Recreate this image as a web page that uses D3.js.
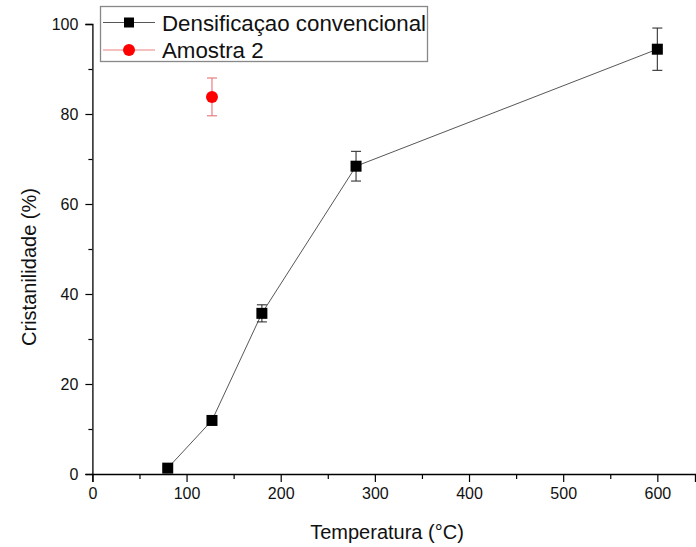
<!DOCTYPE html>
<html>
<head>
<meta charset="utf-8">
<script src="https://cdn.jsdelivr.net/npm/d3@7"></script>
<style>
  html, body { margin: 0; padding: 0; background: #fff; }
  svg { display: block; font-family: Arial, "Liberation Sans", sans-serif; }
</style>
</head>
<body>
<svg id="chart" width="696" height="547"></svg>
<script>
// Conventional densification series: temperature (°C), crystallinity (%), error (±)
const tempConv = [80, 127, 180, 280, 600];
const crystConv = [1.3, 11.9, 35.7, 68.4, 94.4];
const errConv = [0.3, 0.5, 1.9, 3.3, 4.7];

// Sample 2
const tempAm2 = [127];
const crystAm2 = [83.8];
const errAm2 = [4.2];

const xTicks = [0, 100, 200, 300, 400, 500, 600];
const xMinor = [50, 150, 250, 350, 450, 550];
const yTicks = [0, 20, 40, 60, 80, 100];
const yMinor = [10, 30, 50, 70, 90];

const legendLabels = ["Densificaçao convencional", "Amostra 2"];

const svg = d3.select("#chart");

const x = d3.scaleLinear().domain([0, 640]).range([92.4, 695]);
const y = d3.scaleLinear().domain([0, 100]).range([474, 24]);

// Axes
const xAxis = svg.append("g").attr("transform", `translate(0,${y(0)})`)
  .call(d3.axisBottom(x).tickValues(xTicks).tickSize(8).tickPadding(6).tickFormat(d3.format("d")));
const xAxisMinor = svg.append("g").attr("transform", `translate(0,${y(0)})`)
  .call(d3.axisBottom(x).tickValues(xMinor).tickSize(5).tickFormat(""));
const yAxis = svg.append("g").attr("transform", `translate(${x(0)},0)`)
  .call(d3.axisLeft(y).tickValues(yTicks).tickSize(7).tickPadding(7).tickFormat(d3.format("d")));
const yAxisMinor = svg.append("g").attr("transform", `translate(${x(0)},0)`)
  .call(d3.axisLeft(y).tickValues(yMinor).tickSize(4).tickFormat(""));

[xAxis, xAxisMinor, yAxis, yAxisMinor].forEach(g => {
  g.select(".domain").attr("stroke", "#000").attr("stroke-width", 1.3);
  g.selectAll(".tick line").attr("stroke", "#000").attr("stroke-width", 1.2);
  g.selectAll(".tick text").attr("fill", "#111").style("font-size", "16px")
    .style("font-family", "Arial, 'Liberation Sans', sans-serif");
});
xAxisMinor.select(".domain").remove();
yAxisMinor.select(".domain").remove();

// Axis titles
svg.append("text")
  .attr("x", 387).attr("y", 539)
  .attr("text-anchor", "middle")
  .style("font-size", "20px").attr("fill", "#111")
  .text("Temperatura (°C)");

svg.append("text")
  .attr("transform", `translate(36,267) rotate(-90)`)
  .attr("text-anchor", "middle")
  .style("font-size", "20px").attr("fill", "#111")
  .text("Cristanilidade (%)");

// Connecting line
const conv = tempConv.map((t, i) => ({ t, c: crystConv[i], e: errConv[i] }));
const am2 = tempAm2.map((t, i) => ({ t, c: crystAm2[i], e: errAm2[i] }));

svg.append("path")
  .datum(conv)
  .attr("fill", "none")
  .attr("stroke", "#444")
  .attr("stroke-width", 0.9)
  .attr("d", d3.line().x(d => x(d.t)).y(d => y(d.c)));

// Error bars
function errorBars(data, color) {
  const g = svg.append("g").attr("stroke", color).attr("stroke-width", 1.1).attr("fill", "none");
  data.forEach(d => {
    const cx = x(d.t);
    g.append("line").attr("x1", cx).attr("x2", cx).attr("y1", y(d.c + d.e)).attr("y2", y(d.c - d.e));
    [d.c + d.e, d.c - d.e].forEach(v => {
      g.append("line").attr("x1", cx - 5).attr("x2", cx + 5).attr("y1", y(v)).attr("y2", y(v));
    });
  });
}
errorBars(conv, "#333");
errorBars(am2, "#e57373");

// Markers
svg.append("g").selectAll("rect").data(conv).join("rect")
  .attr("x", d => x(d.t) - 5.5).attr("y", d => y(d.c) - 5.5)
  .attr("width", 11).attr("height", 11)
  .attr("fill", "#000");

svg.append("g").selectAll("circle").data(am2).join("circle")
  .attr("cx", d => x(d.t)).attr("cy", d => y(d.c))
  .attr("r", 6).attr("fill", "#f00");

// Legend
const lg = svg.append("g");
lg.append("rect").attr("x", 100.5).attr("y", 6.5).attr("width", 327).attr("height", 55)
  .attr("fill", "#fff").attr("stroke", "#888").attr("stroke-width", 1.3);

const legendRows = [
  { label: legendLabels[0], color: "#000", line: "#444", shape: "square", yy: 22.5 },
  { label: legendLabels[1], color: "#f00", line: "#e57373", shape: "circle", yy: 50 }
];
legendRows.forEach(r => {
  lg.append("line").attr("x1", 103).attr("x2", 155).attr("y1", r.yy).attr("y2", r.yy)
    .attr("stroke", r.line).attr("stroke-width", 0.9);
  if (r.shape === "square") {
    lg.append("rect").attr("x", 129 - 5).attr("y", r.yy - 5).attr("width", 10).attr("height", 10).attr("fill", r.color);
  } else {
    lg.append("circle").attr("cx", 129).attr("cy", r.yy).attr("r", 6).attr("fill", r.color);
  }
  lg.append("text").attr("x", 162).attr("y", r.yy + 8)
    .style("font-size", "22.3px").attr("fill", "#111").text(r.label);
});
</script>
</body>
</html>
